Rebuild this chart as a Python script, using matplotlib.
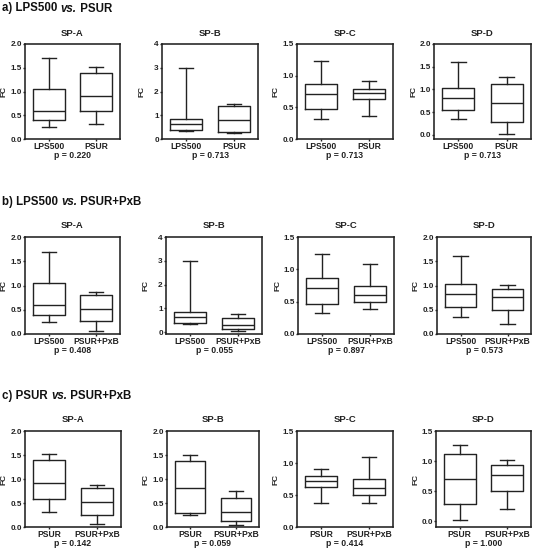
import matplotlib
matplotlib.use("Agg")
import matplotlib.pyplot as plt
from matplotlib.ticker import FormatStrFormatter, MultipleLocator

plt.rcParams['font.family'] = ['Liberation Sans', 'DejaVu Sans']
plt.rcParams['font.weight'] = 'bold'

# ---------------- data (min, q1, median, q3, max) ----------------
proteins = ["SP-A", "SP-B", "SP-C", "SP-D"]

lps500 = {
    "SP-A": [0.25, 0.39, 0.59, 1.06, 1.70],
    "SP-B": [0.33, 0.38, 0.62, 0.85, 2.97],
    "SP-C": [0.32, 0.47, 0.71, 0.87, 1.23],
    "SP-D": [0.35, 0.55, 0.82, 1.03, 1.60],
}
psur = {
    "SP-A": [0.31, 0.59, 0.91, 1.39, 1.52],
    "SP-B": [0.25, 0.29, 0.81, 1.38, 1.49],
    "SP-C": [0.37, 0.63, 0.72, 0.79, 0.91],
    "SP-D": [0.02, 0.28, 0.70, 1.11, 1.27],
}
psur_pxb = {
    "SP-A": [0.07, 0.26, 0.52, 0.81, 0.87],
    "SP-B": [0.05, 0.13, 0.31, 0.61, 0.75],
    "SP-C": [0.38, 0.50, 0.61, 0.75, 1.09],
    "SP-D": [0.20, 0.50, 0.76, 0.93, 1.02],
}

row_titles = [("a) LPS500 ", "vs.", " PSUR"),
              ("b) LPS500 ", "vs.", " PSUR+PxB"),
              ("c) PSUR ", "vs.", " PSUR+PxB")]
row_groups = [(("LPS500", lps500), ("PSUR", psur)),
              (("LPS500", lps500), ("PSUR+PxB", psur_pxb)),
              (("PSUR", psur), ("PSUR+PxB", psur_pxb))]
p_values = [["0.220", "0.713", "0.713", "0.713"],
            ["0.408", "0.055", "0.897", "0.573"],
            ["0.142", "0.059", "0.414", "1.000"]]
y_max = [[2.0, 4, 1.5, 2.0],
         [2.0, 4, 1.5, 2.0],
         [2.0, 2.0, 1.5, 1.5]]
y_min = [[0, 0, 0, -0.09],
         [0, -0.08, 0, 0],
         [0, 0, 0, -0.1]]
y_step = [[0.5, 1, 0.5, 0.5],
          [0.5, 1, 0.5, 0.5],
          [0.5, 0.5, 0.5, 0.5]]

# ---------------- layout (pixels) ----------------
W, H = 534, 550
DPI = 100
fig = plt.figure(figsize=(W / DPI, H / DPI), dpi=DPI)

col_x = [[(25, 120), (162, 258), (297, 393), (434, 531)],
         [(25, 120), (166, 262), (298, 394), (437, 531)],
         [(25, 121), (167, 259), (297, 393), (436, 531)]]
row_y = [(44, 139), (237, 334), (431, 527)]
title_y = [8.5, 201.5, 396]

lw = 1.0

for r in range(3):
    top, bot = row_y[r]
    for c, prot in enumerate(proteins):
        l, rr = col_x[r][c]
        ax = fig.add_axes([l / W, 1 - bot / H, (rr - l) / W, (bot - top) / H])
        stats = []
        labels = []
        for name, d in row_groups[r]:
            mn, q1, md, q3, mx = d[prot]
            stats.append(dict(med=md, q1=q1, q3=q3, whislo=mn, whishi=mx,
                              fliers=[], label=name))
            labels.append(name)
        ax.bxp(stats, positions=[1, 2], widths=0.67, capwidths=0.3,
               showfliers=False, patch_artist=False,
               boxprops=dict(color='#222222', linewidth=lw),
               whiskerprops=dict(color='#222222', linewidth=lw),
               capprops=dict(color='#222222', linewidth=lw),
               medianprops=dict(color='#222222', linewidth=lw))
        ax.set_xlim(0.5, 2.5)
        ax.set_ylim(y_min[r][c], y_max[r][c])
        ax.yaxis.set_major_locator(MultipleLocator(y_step[r][c]))
        if y_step[r][c] >= 1:
            ax.yaxis.set_major_formatter(FormatStrFormatter('%d'))
        else:
            ax.yaxis.set_major_formatter(FormatStrFormatter('%.1f'))
        ax.set_xticks([1, 2])
        ax.set_xticklabels(labels, fontsize=6.2, fontweight='bold', color='#222222')
        ax.tick_params(axis='x', length=1.5, width=lw, pad=1.0, colors='#222222')
        ax.tick_params(axis='y', length=1.8, width=lw, pad=0.5, labelsize=5.9,
                       colors='#222222')
        for t in ax.get_yticklabels():
            t.set_fontweight('bold')
        for s in ax.spines.values():
            s.set_linewidth(1.15)
            s.set_color('#222222')
        ax.set_ylabel("FC", fontsize=6.0, fontweight='bold', color='#222222')
        ax.yaxis.set_label_coords(-17 / (rr - l), 0.5)
        ax.annotate(prot, xy=(0.5, 1), xycoords='axes fraction',
                    xytext=(0, 11), textcoords='offset pixels',
                    ha='center', va='center', fontsize=6.8, fontweight='bold',
                    color='#222222')
        ax.annotate("p = " + p_values[r][c], xy=(0.5, 0), xycoords='axes fraction',
                    xytext=(0, -16.5), textcoords='offset pixels',
                    ha='center', va='center', fontsize=6.2, fontweight='bold',
                    color='#222222')

# row titles with italic "vs."
fig.canvas.draw()
renderer = fig.canvas.get_renderer()
for r in range(3):
    x = 2.0
    yfig = 1 - title_y[r] / H
    for i, part in enumerate(row_titles[r]):
        t = fig.text(x / W, yfig, part, fontsize=8.3, fontweight='bold',
                     fontstyle='italic' if i == 1 else 'normal',
                     ha='left', va='center', color='#111111')
        bb = t.get_window_extent(renderer=renderer)
        x += bb.width

fig.savefig("out.png", dpi=DPI)
